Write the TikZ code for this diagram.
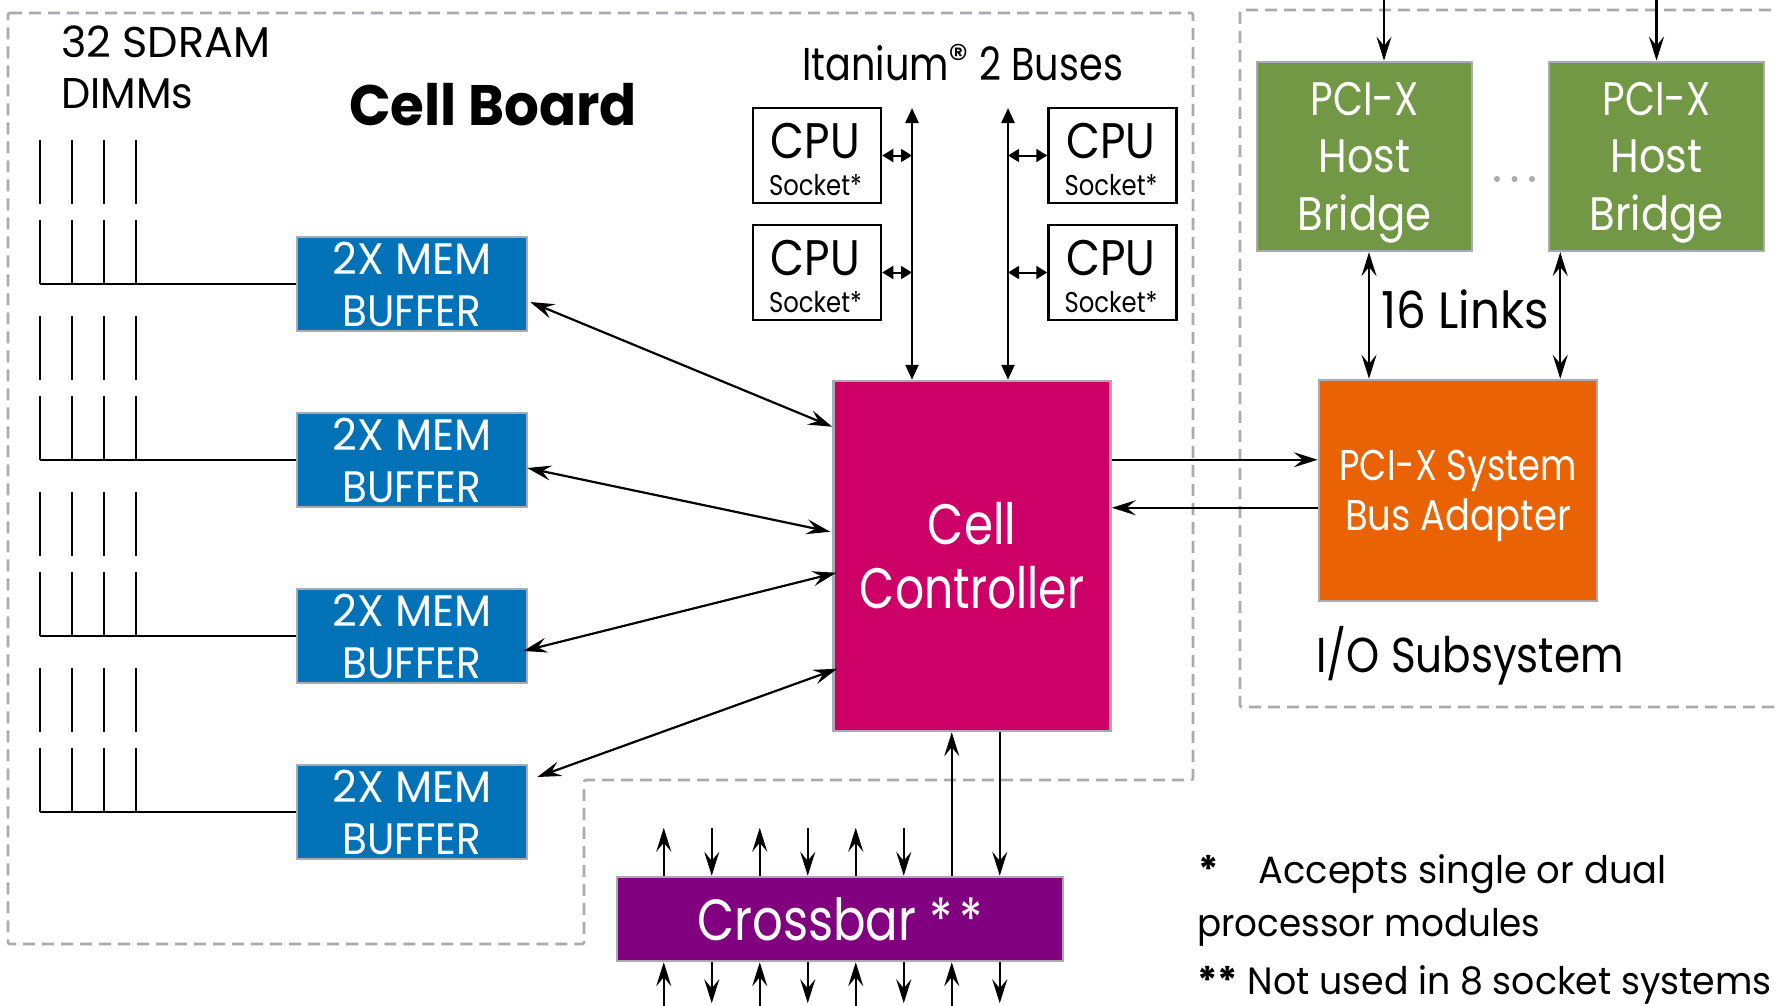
\documentclass[tikz,border=0pt]{standalone}
\usepackage{graphicx}
\usepackage{fontspec}
\setmainfont{Poppins}
\usetikzlibrary{arrows.meta,calc}
\definecolor{memblue}{RGB}{2,114,184}
\definecolor{ctrlmag}{RGB}{204,0,102}
\definecolor{adporange}{RGB}{233,98,4}
\definecolor{hostgreen}{RGB}{114,152,70}
\definecolor{xbarpurple}{RGB}{128,0,128}
\definecolor{edgegray}{RGB}{170,170,176}
\newcommand{\fs}[2]{\fontsize{#1pt}{#2pt}\selectfont}
\newcommand{\hs}[2]{\scalebox{#1}[1]{#2}}
\tikzset{
  colbox/.style={draw=edgegray, line width=2.5pt, inner sep=0pt, align=center, text=white},
  cpubox/.style={draw=black, line width=2.5pt, inner sep=0pt, minimum width=128pt, minimum height=95pt},
  dimm/.style={line width=2pt},
  region/.style={draw=edgegray, line width=2.6pt, dash pattern=on 12pt off 7pt},
  sarr/.style={line width=2.2pt, -{Stealth[length=24pt,width=15pt,inset=9pt]}},
  sdarr/.style={line width=2.2pt, {Stealth[length=24pt,width=15pt,inset=9pt]}-{Stealth[length=24pt,width=15pt,inset=9pt]}},
  busarr/.style={line width=2.5pt, {Triangle[length=15pt,width=13pt]}-{Triangle[length=15pt,width=13pt]}},
  tie/.style={line width=2pt, {Triangle[length=11pt,width=13pt]}-{Triangle[length=11pt,width=13pt]}},
  lbl/.style={inner sep=0pt, anchor=base west},
  ctxt/.style={inner sep=0pt, anchor=base},
}
\begin{document}
\begin{tikzpicture}[x=1pt,y=-1pt]
\useasboundingbox (0,0) rectangle (1778,1005);
\clip (0,0) rectangle (1778,1005);
% regions
\draw[region, rounded corners=2pt] (8,13) -- (1193,13) -- (1193,780) -- (584,780) -- (584,944) -- (8,944) -- cycle;
\draw[region, rounded corners=2pt] (1790,10) -- (1240,10) -- (1240,707) -- (1790,707);

% labels
\node[lbl, font=\fs{43}{51}] (tSd) at (61,57) {32 SDRAM};
\node[lbl, font=\fs{43}{51}] (tDi) at (61,108) {\hs{0.96}{DIMMs}};
\node[lbl, font=\fs{57}{60}\bfseries] (tCB) at (349,125) {\hs{0.96}{Cell Board}};
\node[lbl, font=\fs{46}{50}] (tIt) at (802,80) {\hs{0.83}{Itanium}\raisebox{8pt}{\fs{40}{40}®}\hs{0.83}{ 2 Buses}};

% memory buffers and DIMMs
\foreach \i/\y in {1/284,2/460,3/636,4/812}{
  \node[colbox, fill=memblue, minimum width=230pt, minimum height=94pt, font=\fs{44}{52}] (B\i) at (412,\y) {\hs{0.98}{2X MEM}\\\hs{0.92}{BUFFER}};
  \coordinate (D\i) at (40,\y);
  \draw[dimm] (D\i) -- (B\i.west);
  \foreach \x in {40,72,104,136}{
    \draw[dimm] (\x,\y) -- (\x,\y-64);
    \draw[dimm] (\x,\y-80) -- (\x,\y-144);
  }
}

% cell controller
\node[colbox, fill=ctrlmag, minimum width=277pt, minimum height=350pt, font=\fs{57}{64}] (Ctrl) at (972,556) {\hs{0.82}{Cell}\\\hs{0.80}{Controller}};

% CPU sockets
\foreach \n/\x/\y in {C1/817/155.5, C2/817/272.5, C3/1112.5/155.5, C4/1112.5/272.5}{
  \node[cpubox] (\n) at (\x,\y) {};
  \node[ctxt, font=\fs{50}{50}] (\n cpu) at ($(\n.center)+(-1.5,2.5)$) {\hs{0.88}{CPU}};
  \node[ctxt, font=\fs{28.6}{30}] (\n sock) at ($(\n.center)+(-1.5,39.5)$) {\hs{0.85}{Socket*}};
}

% Itanium buses
\coordinate (LB) at (912,108);
\coordinate (RB) at (1008,108);
\draw[busarr] (LB) -- (LB |- Ctrl.north);
\draw[busarr] (RB) -- (RB |- Ctrl.north);
\draw[tie] (C1.east) -- (C1.east -| LB);
\draw[tie] (C2.east) -- (C2.east -| LB);
\draw[tie] (C3.west) -- (C3.west -| RB);
\draw[tie] (C4.west) -- (C4.west -| RB);

% buffer <-> controller
\draw[sdarr] ($(B1.east)+(2,18)$) -- ($(Ctrl.north west)+(0,47)$);
\draw[sdarr] ($(B2.east)+(-1,8)$) -- ($(Ctrl.north west)+(-2,152)$);
\draw[sdarr] ($(B3.east)+(-5,15)$) -- ($(Ctrl.north west)+(4,193)$);
\draw[sdarr] ($(B4.east)+(9,-35)$) -- ($(Ctrl.north west)+(5,289)$);

% I/O subsystem
\node[colbox, fill=adporange, minimum width=278pt, minimum height=221pt, font=\fs{43}{50}] (Adp) at (1458,490.5) {\hs{0.82}{PCI-X System}\\\smash{\hs{0.86}{Bus Adapter}}};
\node[colbox, fill=hostgreen, minimum width=215pt, minimum height=189pt, font=\fs{47}{57.5}] (H1) at (1364.5,156.4) {\hs{0.83}{PCI-X}\\\hs{0.88}{Host}\\\smash{\hs{0.89}{Bridge}}};
\node[colbox, fill=hostgreen, minimum width=215pt, minimum height=189pt, font=\fs{47}{57.5}] (H2) at (1656.5,156.4) {\hs{0.83}{PCI-X}\\\hs{0.88}{Host}\\\smash{\hs{0.89}{Bridge}}};
\foreach \x in {1497,1514.5,1532}{\fill[edgegray] (\x,179) circle (3pt);}

\coordinate (h1) at ($(Ctrl.north east)+(0,80)$);
\coordinate (h2) at ($(Ctrl.north east)+(0,128)$);
\draw[sarr] (h1) -- (h1 -| Adp.west);
\draw[sarr] (h2 -| Adp.west) -- (h2);

\coordinate (t1) at ($(H1.north)+(19.5,-80)$);
\coordinate (t2) at ($(H2.north)+(0,-80)$);
\draw[sarr] (t1) -- (t1 |- H1.north);
\draw[sarr] (t2) -- (t2 |- H2.north);

\coordinate (l1) at ($(H1.south)+(4.5,0)$);
\coordinate (l2) at ($(H2.south west)+(12.5,0)$);
\draw[sdarr] (l1) -- (l1 |- Adp.north);
\draw[sdarr] (l2) -- (l2 |- Adp.north);
\node[lbl, font=\fs{51}{55}] (tLk) at (1381,328) {\hs{0.92}{16 Links}};
\node[lbl, font=\fs{49}{55}] (tIO) at (1316,672) {\hs{0.86}{I/O Subsystem}};

% crossbar
\node[colbox, fill=xbarpurple, minimum width=446pt, minimum height=84pt, font=\fs{58}{60}] (Xb) at (840,919) {\hs{0.83}{Crossbar *\kern8pt*}};
\foreach \k in {1,3,5}{
  \coordinate (xu\k) at ($(Xb.north west)+(48*\k,-48)$);
  \draw[sarr] (xu\k |- Xb.north) -- (xu\k);
  \coordinate (xb\k) at ($(Xb.south west)+(48*\k,50)$);
  \draw[sarr] (xb\k) -- (xb\k |- Xb.south);
}
\coordinate (xb7) at ($(Xb.south west)+(336,50)$);
\draw[sarr] (xb7) -- (xb7 |- Xb.south);
\foreach \k in {2,4,6}{
  \coordinate (xd\k) at ($(Xb.north west)+(48*\k,-48)$);
  \draw[sarr] (xd\k) -- (xd\k |- Xb.north);
}
\foreach \k in {2,4,6,8}{
  \coordinate (xe\k) at ($(Xb.south west)+(48*\k,41)$);
  \draw[sarr] (xe\k |- Xb.south) -- (xe\k);
}
\coordinate (xc7) at ($(Xb.north west)+(336,0)$);
\coordinate (xc8) at ($(Xb.north west)+(384,0)$);
\draw[sarr] (xc7) -- (xc7 |- Ctrl.south);
\draw[sarr] (xc8 |- Ctrl.south) -- (xc8);

% footnotes
\node[lbl, font=\fs{38}{44}] (fn1) at (1198,883) {\textbf{*}\hspace{40pt}\hs{0.97}{Accepts single or dual}};
\node[lbl, font=\fs{38}{44}] (fn2) at (1197,936) {\hs{0.94}{processor modules}};
\node[lbl, font=\fs{38}{44}] (fn3) at (1197,994) {\textbf{**} \hs{0.955}{Not used in 8 socket systems}};
\end{tikzpicture}
\end{document}
